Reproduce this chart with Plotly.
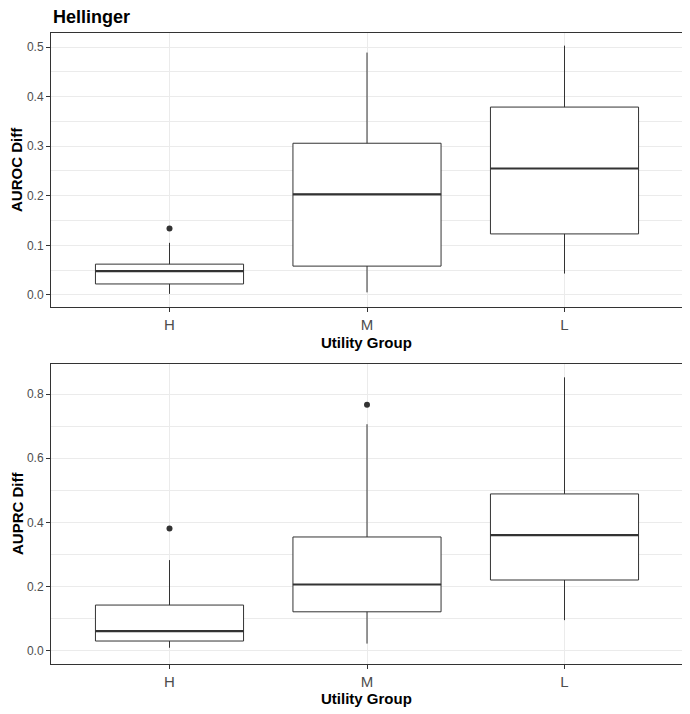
import plotly.graph_objects as go

groups = ["H", "M", "L"]

# Panel 1: AUROC Diff
auroc_low = [0.002, 0.005, 0.043]
auroc_q1 = [0.022, 0.058, 0.123]
auroc_med = [0.048, 0.203, 0.255]
auroc_q3 = [0.062, 0.306, 0.379]
auroc_high = [0.105, 0.489, 0.503]
auroc_out_x = ["H"]
auroc_out_y = [0.134]

# Panel 2: AUPRC Diff
auprc_low = [0.010, 0.023, 0.096]
auprc_q1 = [0.031, 0.122, 0.221]
auprc_med = [0.062, 0.207, 0.361]
auprc_q3 = [0.143, 0.355, 0.489]
auprc_high = [0.283, 0.706, 0.852]
auprc_out_x = ["H", "M"]
auprc_out_y = [0.381, 0.767]

DARK = "#333333"
GRID = "#EBEBEB"
TICKC = "#4D4D4D"
FONT = "Liberation Sans"
NARROW = "Liberation Sans Narrow, Liberation Sans, Arial"
BW = 0.75
W, H = 690, 714
OFF = 8  # body margin of the html page


def px(x):
    return (x - OFF) / W


def py(y):
    return 1 - (y - OFF) / H


pos = {g: i for i, g in enumerate(groups)}

fig = go.Figure()

panels = [
    ("x", "y", auroc_low, auroc_q1, auroc_med, auroc_q3, auroc_high, auroc_out_x, auroc_out_y),
    ("x2", "y2", auprc_low, auprc_q1, auprc_med, auprc_q3, auprc_high, auprc_out_x, auprc_out_y),
]

for xa, ya, lo, q1, med, q3, hi, ox, oy in panels:
    xs = [pos[g] for g in groups]
    fig.add_trace(go.Box(
        x=xs, q1=q1, median=med, q3=q3, lowerfence=lo, upperfence=hi,
        width=BW, whiskerwidth=0, fillcolor="white",
        line=dict(color=DARK, width=1), boxpoints=False,
        xaxis=xa, yaxis=ya, showlegend=False, hoverinfo="skip",
    ))
    for g, m in zip(groups, med):
        fig.add_trace(go.Scatter(
            x=[pos[g] - BW / 2, pos[g] + BW / 2], y=[m, m], mode="lines",
            line=dict(color=DARK, width=2.2), xaxis=xa, yaxis=ya,
            showlegend=False, hoverinfo="skip",
        ))
    fig.add_trace(go.Scatter(
        x=[pos[g] for g in ox], y=oy, mode="markers",
        marker=dict(color=DARK, size=6), xaxis=xa, yaxis=ya,
        showlegend=False, hoverinfo="skip",
    ))

xcommon = dict(
    range=[-0.6, 2.6], tickmode="array", tickvals=[0, 1, 2], ticktext=groups,
    showgrid=True, gridcolor=GRID, gridwidth=1, zeroline=False,
    showline=True, mirror=True, linecolor=DARK, linewidth=1,
    ticks="outside", ticklen=4, tickcolor=DARK, tickwidth=1,
    tickfont=dict(family=FONT, size=15, color=TICKC),
)
ycommon = dict(
    showgrid=True, gridcolor=GRID, gridwidth=1, zeroline=False,
    showline=True, mirror=True, linecolor=DARK, linewidth=1,
    ticks="outside", ticklen=4, tickcolor=DARK, tickwidth=1,
    tickfont=dict(family=NARROW, size=12, color=TICKC),
)

fig.update_layout(
    width=W, height=H,
    margin=dict(l=0, r=0, t=0, b=0),
    paper_bgcolor="white", plot_bgcolor="white",
    xaxis=dict(domain=[px(51), px(683)], anchor="y", **xcommon),
    yaxis=dict(domain=[py(307), py(33)], anchor="x", range=[-0.0245, 0.5285],
               tickvals=[0, 0.1, 0.2, 0.3, 0.4, 0.5],
               ticktext=["0.0", "0.1", "0.2", "0.3", "0.4", "0.5"],
               minor=dict(showgrid=True, gridcolor=GRID, gridwidth=0.6, tick0=0.05, dtick=0.1),
               **ycommon),
    xaxis2=dict(domain=[px(51), px(683)], anchor="y2", **xcommon),
    yaxis2=dict(domain=[py(664), py(364)], anchor="x2", range=[-0.0405, 0.8935],
                tickvals=[0, 0.2, 0.4, 0.6, 0.8],
                ticktext=["0.0", "0.2", "0.4", "0.6", "0.8"],
                minor=dict(showgrid=True, gridcolor=GRID, gridwidth=0.6, tick0=0.1, dtick=0.2),
                **ycommon),
    annotations=[
        dict(text="<b>Hellinger</b>", x=px(51), y=py(17), xref="paper", yref="paper",
             xanchor="left", yanchor="middle", showarrow=False,
             font=dict(family=FONT, size=18, color="black")),
        dict(text="<b>AUROC Diff</b>", x=px(17), y=py(170), xref="paper", yref="paper",
             xanchor="center", yanchor="middle", textangle=-90, showarrow=False,
             font=dict(family=FONT, size=15, color="black")),
        dict(text="<b>AUPRC Diff</b>", x=px(17), y=py(514), xref="paper", yref="paper",
             xanchor="center", yanchor="middle", textangle=-90, showarrow=False,
             font=dict(family=FONT, size=15, color="black")),
        dict(text="<b>Utility Group</b>", x=px(367), y=py(342), xref="paper", yref="paper",
             xanchor="center", yanchor="middle", showarrow=False,
             font=dict(family=FONT, size=15, color="black")),
        dict(text="<b>Utility Group</b>", x=px(367), y=py(698), xref="paper", yref="paper",
             xanchor="center", yanchor="middle", showarrow=False,
             font=dict(family=FONT, size=15, color="black")),
    ],
)

fig.write_html("out.html")
